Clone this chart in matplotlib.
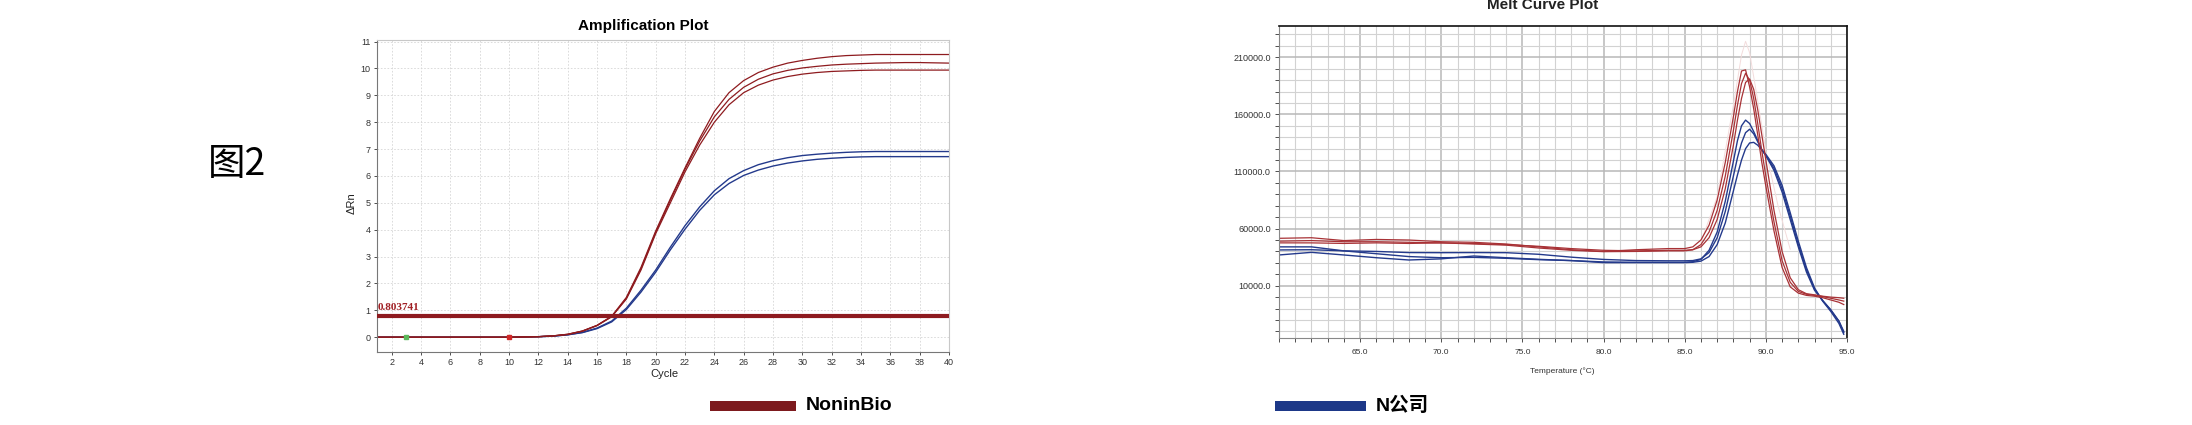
import matplotlib
matplotlib.use("Agg")
import matplotlib.pyplot as plt
from matplotlib.patches import Rectangle
from matplotlib.ticker import MultipleLocator, FixedLocator, FuncFormatter

plt.rcParams['font.family'] = ['Liberation Sans', 'Noto Sans CJK SC', 'DejaVu Sans']

W, H = 2192, 425

# ---- amplification plot (delta Rn per cycle) ----
cycles = list(range(1, 41))
amp_red_1 = [0.0, 0.0, 0.0, 0.0, 0.0, 0.0, 0.0, 0.0, 0.0, 0.0, 0.01, 0.02, 0.05, 0.11, 0.23, 0.44, 0.78, 1.48, 2.6, 3.95,
             5.15, 6.3, 7.4, 8.4, 9.1, 9.55, 9.85, 10.05, 10.2, 10.3, 10.38, 10.44, 10.48, 10.5, 10.52, 10.52, 10.52, 10.52, 10.52, 10.52]
amp_red_2 = [0.0, 0.0, 0.0, 0.0, 0.0, 0.0, 0.0, 0.0, 0.0, 0.0, 0.01, 0.02, 0.05, 0.11, 0.23, 0.44, 0.77, 1.45, 2.55, 3.9,
             5.1, 6.25, 7.3, 8.2, 8.85, 9.3, 9.6, 9.8, 9.93, 10.02, 10.08, 10.13, 10.16, 10.18, 10.2, 10.21, 10.22, 10.22, 10.21, 10.2]
amp_red_3 = [0.0, 0.0, 0.0, 0.0, 0.0, 0.0, 0.0, 0.0, 0.0, 0.0, 0.01, 0.02, 0.05, 0.1, 0.22, 0.43, 0.76, 1.42, 2.5, 3.85,
             5.0, 6.15, 7.15, 8.0, 8.65, 9.1, 9.38, 9.57, 9.7, 9.79, 9.85, 9.89, 9.91, 9.93, 9.94, 9.94, 9.94, 9.94, 9.94, 9.94]
amp_blue_1 = [0.0, 0.0, 0.0, 0.0, 0.0, 0.0, 0.0, 0.0, 0.0, 0.0, 0.01, 0.02, 0.04, 0.09, 0.18, 0.34, 0.6, 1.08, 1.75, 2.5,
              3.35, 4.15, 4.85, 5.45, 5.9, 6.2, 6.42, 6.57, 6.68, 6.76, 6.81, 6.85, 6.88, 6.9, 6.91, 6.91, 6.91, 6.91, 6.91, 6.91]
amp_blue_2 = [0.0, 0.0, 0.0, 0.0, 0.0, 0.0, 0.0, 0.0, 0.0, 0.0, 0.01, 0.02, 0.04, 0.09, 0.17, 0.32, 0.57, 1.03, 1.68, 2.42,
              3.25, 4.02, 4.72, 5.3, 5.72, 6.02, 6.22, 6.37, 6.48, 6.56, 6.62, 6.66, 6.69, 6.71, 6.72, 6.72, 6.72, 6.72, 6.72, 6.72]
threshold = 0.803741
baseline_start = 3
baseline_end = 10

# ---- melt curve plot (derivative reporter vs temperature) ----
melt_temp = [60, 62, 64, 66, 68, 70, 72, 74, 76, 78, 80, 82, 84,
             85, 85.5, 86, 86.5, 87, 87.5, 88,
             88.25, 88.5, 88.75, 89, 89.25, 89.5, 89.75, 90,
             90.5, 91, 91.5, 92, 92.5, 93, 93.5, 94, 94.5, 94.8]
melt_red_1 = [51500, 52000, 49500, 50500, 50000, 48500, 48000, 46500, 44000, 41500, 40000, 41500, 42500,
              42500, 44000, 50000, 63000, 85000, 118000, 158000,
              180000, 198000, 199000, 184000, 165000, 142000, 118000, 97000,
              58000, 26000, 9000, 3500, 1500, 800, -500, -2500, -4500, -6500]
melt_red_2 = [47500, 47500, 47000, 47500, 47000, 47500, 46500, 45500, 43000, 41000, 39800, 40000, 40500,
              40500, 41500, 46000, 57000, 76000, 106000, 146000,
              168000, 187000, 196000, 190000, 174000, 152000, 128000, 106000,
              66000, 32000, 13000, 5000, 2500, 1500, 500, -1000, -2500, -3500]
melt_red_3 = [49000, 49500, 48500, 48500, 48000, 47500, 47000, 46000, 44500, 42500, 41000, 40500, 41000,
              41000, 41500, 44000, 52000, 68000, 95000, 133000,
              155000, 174000, 188000, 191000, 182000, 164000, 142000, 120000,
              76000, 40000, 17000, 6500, 3000, 2000, 800, 0, -500, -1000]
melt_blue_1 = [44000, 44000, 40500, 38000, 35500, 34500, 34800, 34000, 32800, 32000, 30800, 30500, 30500,
               30500, 31000, 33000, 41000, 57000, 84000, 119000,
               137000, 150000, 155000, 152000, 145000, 137000, 129000, 124000,
               111000, 92000, 68000, 44000, 22000, 6000, -3000, -11000, -21000, -31000]
melt_blue_2 = [41300, 41500, 40500, 40000, 39000, 38900, 39000, 38900, 37500, 35000, 33000, 32000, 31800,
               31800, 32000, 33500, 39000, 52000, 75000, 106000,
               122000, 135000, 144000, 147000, 143000, 136000, 129000, 124000,
               113000, 95000, 71000, 46000, 24000, 7000, -3000, -11500, -21000, -30000]
melt_blue_3 = [36900, 39200, 36900, 34500, 32500, 33500, 36000, 34500, 33100, 32000, 30200, 30200, 30200,
               30200, 30500, 31500, 35500, 46000, 65000, 93000,
               107000, 120000, 130000, 135000, 135500, 133000, 129000, 125000,
               115000, 98000, 74000, 49000, 26000, 8000, -3500, -12500, -23000, -32500]
faint_temp = [86, 87, 88, 88.5, 88.75, 89, 89.5, 90, 90.75, 91.5]
faint_val = [48000, 88000, 168000, 212000, 224000, 214000, 172000, 128000, 80000, 42000]

legend_labels = ['NoninBio', 'N公司']

RED = '#8e1b1f'
BLUE = '#243a8c'
MELT_RED = '#a83236'


def px_box(left, top, right, bottom):
    return [left / W, 1 - bottom / H, (right - left) / W, (bottom - top) / H]


fig = plt.figure(figsize=(W / 100, H / 100), dpi=100)
fig.patch.set_facecolor('white')

# ---------- amplification plot ----------
ax = fig.add_axes(px_box(377, 40, 949, 352))
ax.set_xlim(1, 40)
ax.set_ylim(-0.55, 11.06)
ax.xaxis.set_major_locator(FixedLocator(list(range(2, 41, 2))))
ax.yaxis.set_major_locator(MultipleLocator(1))
ax.grid(True, color='#d6d6d6', linestyle=(0, (2, 2)), linewidth=0.6)
ax.tick_params(labelsize=6.5, colors='#333333', length=2.5, width=0.6, pad=2)
for s in ['top', 'right']:
    ax.spines[s].set_color('#c8c8c8')
for s in ['left', 'bottom']:
    ax.spines[s].set_color('#777777')
for s in ax.spines.values():
    s.set_linewidth(0.8)

for series in [amp_blue_1, amp_blue_2]:
    ax.plot(cycles, series, color=BLUE, lw=1.0)
for series in [amp_red_1, amp_red_2, amp_red_3]:
    ax.plot(cycles, series, color=RED, lw=0.9)

ax.axhline(threshold, color=RED, lw=3, zorder=5)
ax.text(1.05, threshold + 0.12, f'{threshold:.6f}', color='#a01f24', fontsize=8,
        fontweight='bold', family='Liberation Serif', va='bottom', ha='left', zorder=6)
ax.plot([baseline_start], [0], marker='s', ms=3.5, color='#5cb85c', zorder=6)
ax.plot([baseline_end], [0], marker='s', ms=3.5, color='#d02828', zorder=6)

fig.text(643 / W, 1 - 26 / H, 'Amplification Plot', fontsize=11, fontweight='bold',
         ha='center', va='center')
fig.text(664 / W, 1 - 374 / H, 'Cycle', fontsize=8, ha='center', va='center', color='#222222')
fig.text(352 / W, 1 - 203 / H, 'ΔRn', fontsize=8, rotation=90, ha='center', va='center', color='#222222')

# ---------- melt curve plot ----------
mx = fig.add_axes(px_box(1279, 26, 1847, 338))
mx.set_xlim(60, 95)
mx.set_ylim(-35800, 237400)
mx.xaxis.set_major_locator(FixedLocator([65, 70, 75, 80, 85, 90, 95]))
mx.xaxis.set_minor_locator(MultipleLocator(1))
mx.yaxis.set_major_locator(FixedLocator([10000, 60000, 110000, 160000, 210000]))
mx.yaxis.set_minor_locator(MultipleLocator(10000))
mx.xaxis.set_major_formatter(FuncFormatter(lambda v, p: f'{v:.1f}'))
mx.yaxis.set_major_formatter(FuncFormatter(lambda v, p: f'{v:.1f}'))
mx.grid(True, which='minor', color='#d2d2d2', linewidth=0.8)
mx.grid(True, which='major', color='#b8b8b8', linewidth=1.1)
mx.set_axisbelow(True)
mx.tick_params(which='both', colors='#333333', length=3, width=0.6, pad=3)
mx.tick_params(axis='y', labelsize=6.5)
mx.tick_params(axis='x', labelsize=6, pad=5)
for s in ['top', 'right']:
    mx.spines[s].set_color('#111111')
    mx.spines[s].set_linewidth(1.2)
for s in ['left', 'bottom']:
    mx.spines[s].set_color('#888888')
    mx.spines[s].set_linewidth(0.8)

mx.plot(faint_temp, faint_val, color='#f3dcdc', lw=0.7)
for series in [melt_blue_1, melt_blue_2, melt_blue_3]:
    mx.plot(melt_temp, series, color=BLUE, lw=1.0)
for series in [melt_red_1, melt_red_2, melt_red_3]:
    mx.plot(melt_temp, series, color=MELT_RED, lw=0.9)

# title sits partly above the top edge of the picture, as in the source
fig.text(1543 / W, 1 - 9 / H, 'Melt Curve Plot', fontsize=11, fontweight='bold',
         ha='center', va='baseline', color='#222222')
fig.text(1562 / W, 1 - 371 / H, 'Temperature (°C)', fontsize=6, ha='center', va='center',
         color='#333333')

# ---------- figure label and legend ----------
fig.text(237 / W, 1 - 165 / H, '图2', fontsize=27, family=['Noto Sans CJK SC', 'DejaVu Sans'],
         ha='center', va='center')

fig.patches.append(Rectangle((710 / W, 1 - 411 / H), 86 / W, 10 / H, transform=fig.transFigure,
                             facecolor='#7d1a1e', edgecolor='none'))
fig.text(806 / W, 1 - 406 / H, legend_labels[0], fontsize=14, fontweight='bold', ha='left', va='center')
fig.patches.append(Rectangle((1275 / W, 1 - 411 / H), 91 / W, 10 / H, transform=fig.transFigure,
                             facecolor='#1d3888', edgecolor='none'))
fig.text(1376 / W, 1 - 406 / H, legend_labels[1], fontsize=14, fontweight='bold',
         family=['Liberation Sans', 'Noto Sans CJK SC'], ha='left', va='center')

fig.savefig('out.png', dpi=100, facecolor='white')
